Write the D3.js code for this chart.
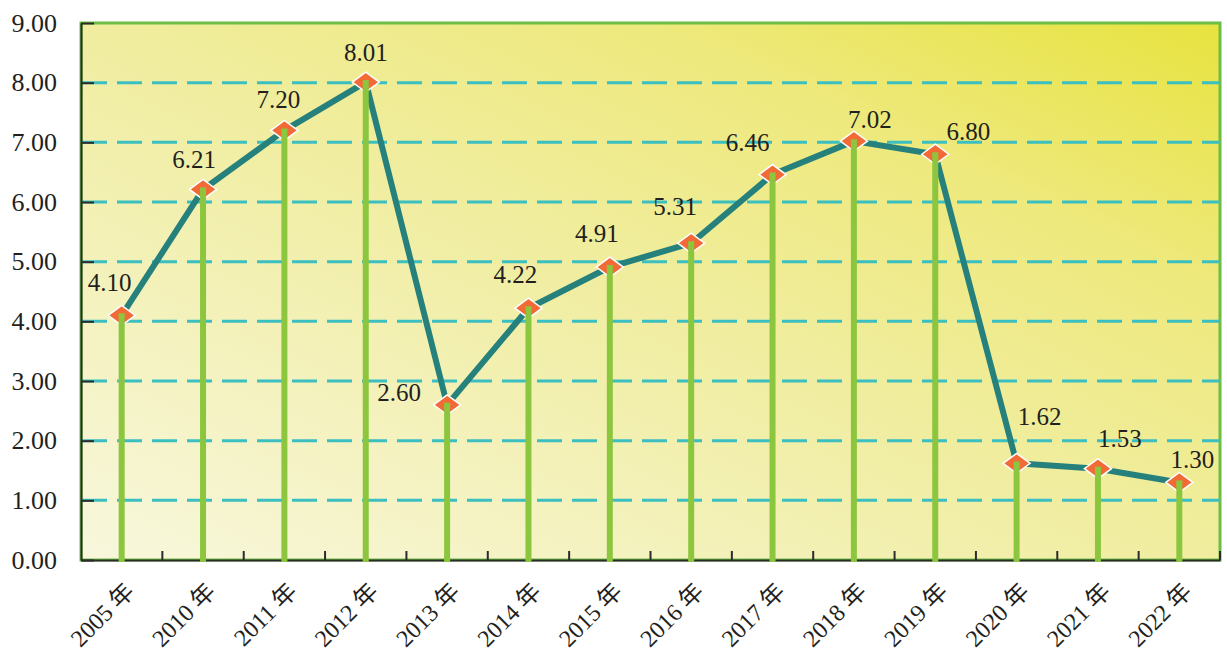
<!DOCTYPE html>
<html>
<head>
<meta charset="utf-8">
<script src="https://cdn.jsdelivr.net/npm/d3@7"></script>
<style>
  body { margin: 0; background: #fff; }
  svg { display: block; }
  svg text { font-family: "Liberation Serif", "Times New Roman", Times, "DejaVu Serif", "Noto Sans CJK SC", serif !important; fill: #231f20; }
</style>
</head>
<body>
<svg id="chart"></svg>
<script>
// Data
const years = ["2005", "2010", "2011", "2012", "2013", "2014", "2015", "2016", "2017", "2018", "2019", "2020", "2021", "2022"];
const values = [4.10, 6.21, 7.20, 8.01, 2.60, 4.22, 4.91, 5.31, 6.46, 7.02, 6.80, 1.62, 1.53, 1.30];
const yTicks = [0, 1, 2, 3, 4, 5, 6, 7, 8, 9];

// label nudges (px) relative to each marker
const labelShift = [[-12, -24], [-9, -21], [-6, -22], [0, -21], [-48, -4], [-13, -25], [-13, -25],
  [-16, -28], [-25, -24], [16, -13], [33, -14], [23, -38], [22, -22], [13, -14]];

const width = 1227, height = 657;
const plotLeft = 81, plotRight = 1220, plotTop = 23, plotBottom = 560;

const svg = d3.select("#chart").attr("width", width).attr("height", height);

const x = d3.scaleBand().domain(years).range([plotLeft, plotRight]).padding(0);
const y = d3.scaleLinear().domain([0, 9]).range([plotBottom, plotTop]);

// background gradient
const defs = svg.append("defs");
const grad = defs.append("linearGradient").attr("id", "bg")
  .attr("x1", 0).attr("y1", 1).attr("x2", 1).attr("y2", 0);
[[0, "#f8f7dd"], [0.5, "#f0ed9f"], [0.75, "#eee97c"], [1, "#e7e33f"]].forEach(([o, c]) => {
  grad.append("stop").attr("offset", o).attr("stop-color", c);
});

svg.append("rect")
  .attr("x", plotLeft).attr("y", plotTop)
  .attr("width", plotRight - plotLeft).attr("height", plotBottom - plotTop)
  .attr("fill", "url(#bg)")
  .attr("stroke", "#6cbd45")
  .attr("stroke-width", 3);

// dashed gridlines
svg.append("g").selectAll("line")
  .data(yTicks.filter(t => t > 0 && t < 9))
  .join("line")
  .attr("x1", plotLeft + 1).attr("x2", plotRight - 1)
  .attr("y1", d => y(d)).attr("y2", d => y(d))
  .attr("stroke", "#3bbfc0")
  .attr("stroke-width", 3)
  .attr("stroke-dasharray", "25,10");

// y axis
const yAxis = svg.append("g")
  .attr("transform", `translate(${plotLeft},0)`)
  .call(d3.axisLeft(y).tickValues(yTicks).tickFormat(d3.format(".2f"))
    .tickSize(-13).tickSizeOuter(0).tickPadding(24));
yAxis.attr("font-family", null);
yAxis.select(".domain").attr("stroke", "#2b2b2b").attr("stroke-width", 2);
yAxis.selectAll(".tick line").attr("stroke", "#2b2b2b").attr("stroke-width", 2);
yAxis.selectAll(".tick text")
  .attr("font-size", 26)
  .attr("fill", "#231f20");

// x axis
const xAxis = svg.append("g")
  .attr("transform", `translate(0,${plotBottom})`)
  .call(d3.axisBottom(x).tickSize(0).tickSizeOuter(0).tickFormat(d => d + " 年"));
xAxis.attr("font-family", null);
xAxis.select(".domain").attr("stroke", "#2b2b2b").attr("stroke-width", 2);
xAxis.selectAll(".tick text")
  .attr("font-size", 24)
  .attr("fill", "#231f20")
  .attr("text-anchor", "end")
  .attr("dy", null)
  .attr("y", null)
  .attr("transform", "translate(14,33) rotate(-45)");

// boundary ticks pointing up
const bounds = years.slice(1).map(d => x(d)).concat([plotRight]);
svg.append("g").selectAll("line")
  .data(bounds)
  .join("line")
  .attr("x1", d => d).attr("x2", d => d)
  .attr("y1", plotBottom).attr("y2", plotBottom - 9)
  .attr("stroke", "#2b2b2b")
  .attr("stroke-width", 2);

const cx = (d, i) => x(years[i]) + x.bandwidth() / 2;

// connecting line
svg.append("path")
  .datum(values)
  .attr("fill", "none")
  .attr("stroke", "#26807b")
  .attr("stroke-width", 6)
  .attr("stroke-linejoin", "round")
  .attr("d", d3.line().x(cx).y(d => y(d)));

// markers
svg.append("g").selectAll("path")
  .data(values)
  .join("path")
  .attr("transform", (d, i) => `translate(${cx(d, i)},${y(d)})`)
  .attr("d", "M-13.5,0L0,-10L13.5,0L0,10Z")
  .attr("fill", "#f26a36")
  .attr("stroke", "#ffffff")
  .attr("stroke-width", 1.5);

// stems
svg.append("g").selectAll("line")
  .data(values)
  .join("line")
  .attr("x1", cx).attr("x2", cx)
  .attr("y1", y(0) + 2)
  .attr("y2", d => y(d) - 2)
  .attr("stroke", "#8cc63f")
  .attr("stroke-width", 6);

// value labels
svg.append("g").selectAll("text")
  .data(values)
  .join("text")
  .attr("x", (d, i) => cx(d, i) + labelShift[i][0])
  .attr("y", (d, i) => y(d) + labelShift[i][1])
  .attr("text-anchor", "middle")
  .attr("font-size", 25)
  .text(d => d3.format(".2f")(d));
</script>
</body>
</html>
